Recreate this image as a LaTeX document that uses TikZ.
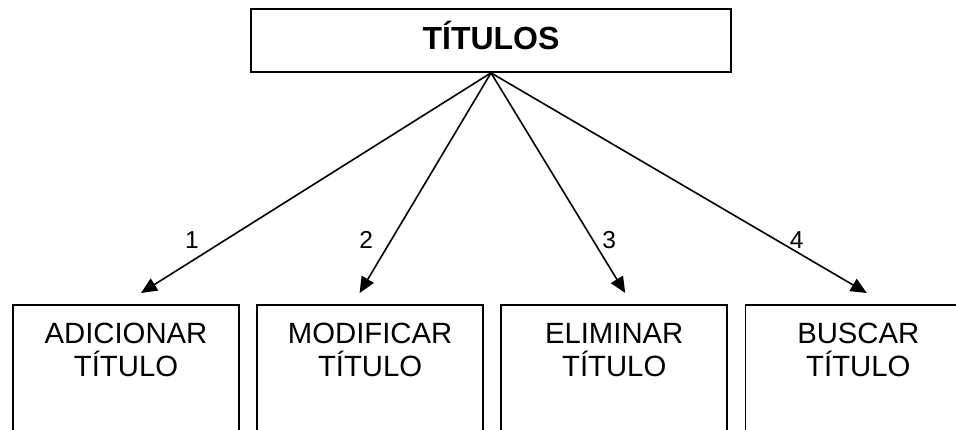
\documentclass[tikz,border=0pt]{standalone}
\usepackage{fontspec}
\setmainfont{Liberation Sans}
\usepackage{tikz}
\usetikzlibrary{positioning,arrows.meta}

\begin{document}
\begin{tikzpicture}[
    x=1pt, y=1pt,
    titulo/.style={draw, line width=1.8pt, minimum width=480pt, minimum height=63pt,
                   inner sep=0pt, font=\fontsize{32}{36}\selectfont\bfseries,
                   text height=23pt, text depth=5.4pt},
    caja/.style={draw, line width=1.6pt, anchor=north, minimum width=226pt,
                 minimum height=170pt, inner sep=0pt},
    txt/.style={align=center, inner sep=0pt, font=\fontsize{29.3}{33}\selectfont,
                text height=54pt, text depth=0pt},
    num/.style={inner sep=0pt, font=\fontsize{24.5}{28}\selectfont},
    flecha/.style={-{Triangle[length=16pt,width=14pt]}, line width=1.6pt},
    node distance=16.5pt
]
\useasboundingbox (0,0) rectangle (956,430);
\clip (0,0) rectangle (956,430);

% top box
\node[titulo] (titulos) at (491,389.5) {TÍTULOS};

% bottom row
\node[caja] (adic) at (126,126) {};
\node[caja, right=of adic] (modif) {};
\node[caja, right=of modif] (elim) {};
\node[caja, right=of elim] (busc) {};

\node[txt] (adict) at ([yshift=-45.5pt]adic.north) {ADICIONAR\\TÍTULO};
\node[txt] (modift) at ([yshift=-45.5pt]modif.north) {MODIFICAR\\TÍTULO};
\node[txt] (elimt) at ([yshift=-45.5pt]elim.north) {ELIMINAR\\TÍTULO};
\node[txt] (busct) at ([yshift=-45.5pt]busc.north) {BUSCAR\\TÍTULO};

% arrow tips, just above the boxes
\coordinate (f1) at ([xshift=15pt,yshift=11pt]adic.north);
\coordinate (f2) at ([xshift=-10.5pt,yshift=11pt]modif.north);
\coordinate (f3) at ([xshift=11pt,yshift=11pt]elim.north);
\coordinate (f4) at ([xshift=8.5pt,yshift=11pt]busc.north);

% arrows
\draw[flecha] (titulos.south) -- (f1) node[num, pos=.83, xshift=-8.5pt, yshift=15.4pt] {1};
\draw[flecha] (titulos.south) -- (f2) node[num, pos=.81, xshift=-18.4pt, yshift=11pt] {2};
\draw[flecha] (titulos.south) -- (f3) node[num, pos=.79, xshift=12.2pt, yshift=7pt] {3};
\draw[flecha] (titulos.south) -- (f4) node[num, pos=.80, xshift=5.1pt, yshift=8.9pt] {4};

\end{tikzpicture}
\end{document}
